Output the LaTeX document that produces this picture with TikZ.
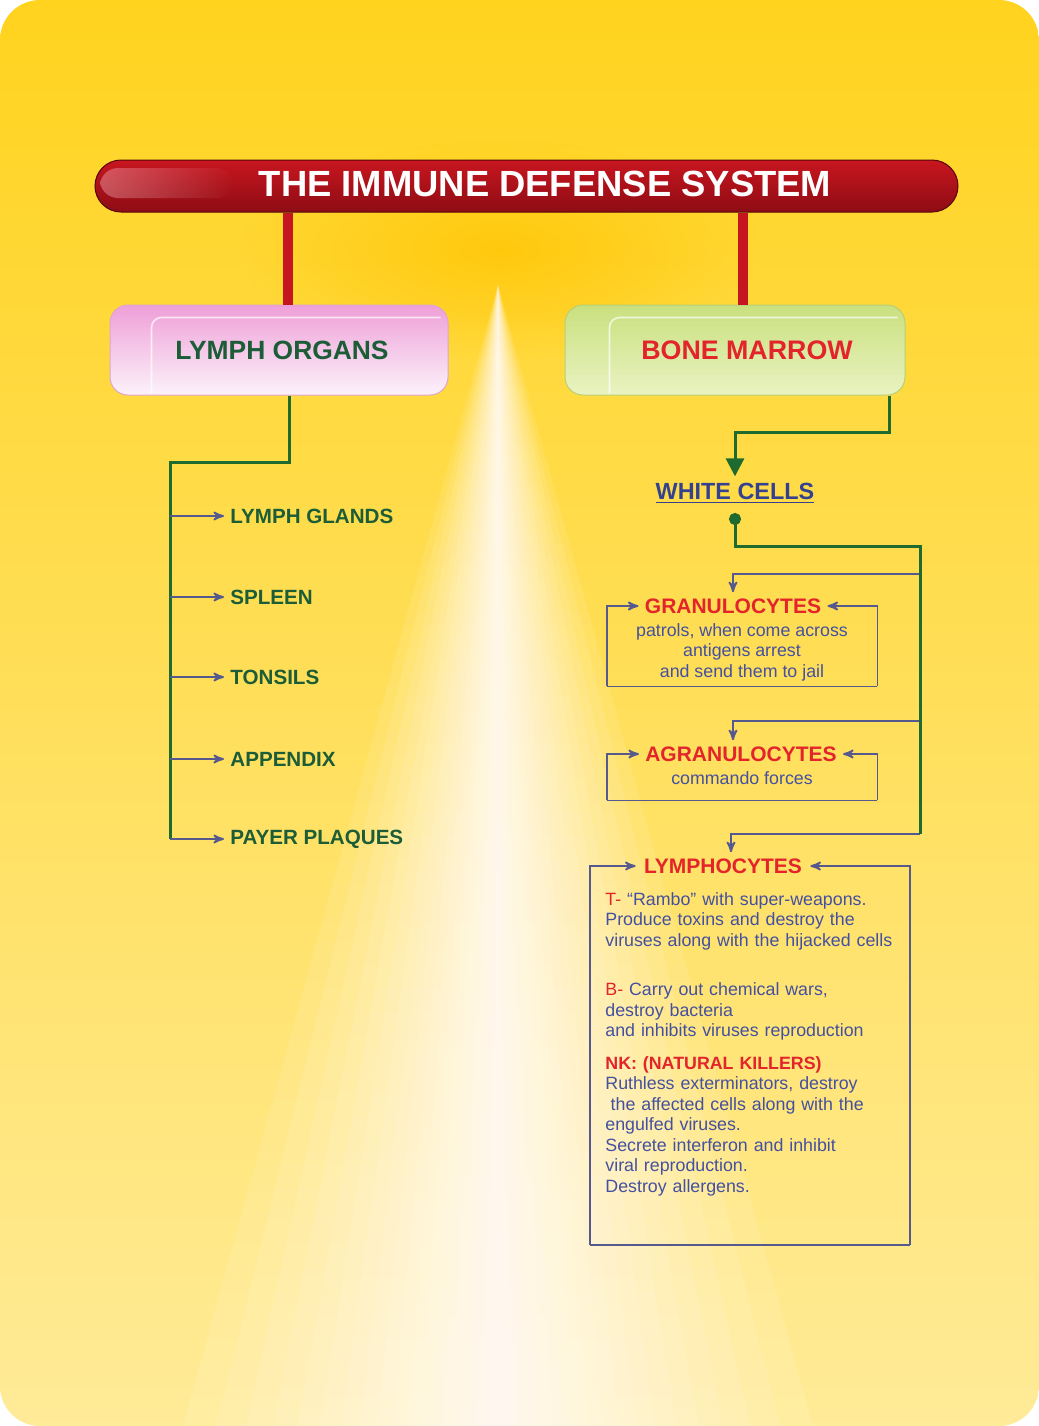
\documentclass[tikz,border=0pt]{standalone}
\usepackage{fontspec}
\setmainfont{Liberation Sans}
\usepackage{tikz}
\usetikzlibrary{arrows,arrows.meta,shapes,positioning,calc,fadings}
\definecolor{bgtop}{HTML}{FFD31E}
\definecolor{bgmid}{HTML}{FFD93C}
\definecolor{bgfoot}{HTML}{FFEB98}
\definecolor{glowgold}{HTML}{FFC400}
\definecolor{bartop}{HTML}{C8161F}
\definecolor{barred}{HTML}{EE2C34}
\definecolor{barfoot}{HTML}{8E0C14}
\definecolor{barshine}{HTML}{FBC0C8}
\definecolor{stemred}{HTML}{C41520}
\definecolor{pinktop}{HTML}{EE9FD8}
\definecolor{pinkfoot}{HTML}{FCF2FA}
\definecolor{pinkedge}{HTML}{DDA6CC}
\definecolor{greentop}{HTML}{C9E07E}
\definecolor{greenfoot}{HTML}{EAF3C2}
\definecolor{greenedge}{HTML}{B7CF76}
\definecolor{labelgreen}{HTML}{1C5C36}
\definecolor{alertred}{HTML}{E3242B}
\definecolor{textblue}{HTML}{4450A0}
\definecolor{whiteblue}{HTML}{34418F}
\definecolor{feedblue}{HTML}{56598E}
\definecolor{trunkgreen}{HTML}{1F6A2E}
\tikzfading[name=fadeleft, left color=transparent!35, right color=transparent!100]
\tikzfading[name=glowfade, inner color=transparent!25, outer color=transparent!100]
\tikzstyle{titlebar}=[rectangle, rounded corners=13pt, minimum width=431.5pt, minimum height=26pt, top color=bartop, middle color=barred, bottom color=barfoot, draw=barfoot!60!black, line width=0.5pt]
\tikzstyle{titletext}=[font=\fontsize{18.2}{22}\selectfont\bfseries, text=white]
\tikzstyle{pinkbox}=[rectangle, rounded corners=9pt, minimum width=169pt, minimum height=45pt, top color=pinktop, bottom color=pinkfoot, draw=pinkedge, line width=0.5pt, font=\fontsize{13.2}{15}\selectfont\bfseries, text=labelgreen]
\tikzstyle{greenbox}=[rectangle, rounded corners=9pt, minimum width=170pt, minimum height=45pt, top color=greentop, bottom color=greenfoot, draw=greenedge, line width=0.5pt, font=\fontsize{13.4}{15}\selectfont\bfseries, text=alertred]
\tikzstyle{facecut}=[draw=white, opacity=0.7, line width=0.8pt, rounded corners=5pt]
\tikzstyle{stem}=[draw=stemred, line width=5pt]
\tikzstyle{trunk}=[draw=trunkgreen, line width=1.5pt]
\tikzstyle{cellframe}=[draw=feedblue, line width=0.9pt]
\tikzstyle{feed}=[cellframe, ->, >=stealth']
\tikzstyle{organlabel}=[anchor=west, inner sep=3pt, font=\fontsize{10.3}{12}\selectfont\bfseries, text=labelgreen]
\tikzstyle{whitelabel}=[inner sep=3pt, font=\fontsize{11.7}{14}\selectfont\bfseries, text=whiteblue]
\tikzstyle{celltitle}=[inner sep=3pt, font=\fontsize{10.5}{12}\selectfont\bfseries, text=alertred]
\tikzstyle{cellbody}=[inner sep=0pt, align=center, font=\fontsize{8.9}{10.25}\selectfont, text=textblue]
\begin{document}
\begin{tikzpicture}[x=0.5pt,y=-0.5pt]
\useasboundingbox (0,0) rectangle (1039,1426);
% backdrop with the light ray
\fill[white] (0,0) rectangle (1039,1426);
\shade[rounded corners=20pt, top color=bgtop, middle color=bgmid, bottom color=bgfoot] (0,0) rectangle (1039,1426);
\fill[glowgold, path fading=glowfade] (500,250) ellipse [x radius=260, y radius=110];
\foreach \w in {5,9,14,20,27,35,44,54,65,77,90,105,121,138,157,178,200,225,252,282,315}
  \fill[white, opacity=0.1] (498,285) -- (498-\w,1426) -- (498+\w,1426) -- cycle;

% title bar
\node[titlebar] (bar) at (526.5,186) {};
\fill[barshine, opacity=0.6, path fading=fadeleft, rounded corners=9pt] (100,168) rectangle (235,198);
\node[titletext] (title) at (545,184) {THE IMMUNE DEFENSE SYSTEM};

% the two organ boxes
\node[pinkbox] (lymph) at (279,350) {\hspace*{3pt}LYMPH ORGANS};
\node[greenbox] (marrow) at (735,350) {\hspace*{12pt}BONE MARROW};
\draw[facecut] ([xshift=21pt,yshift=1pt]lymph.south west) -- ([xshift=21pt,yshift=-6.5pt]lymph.north west) -- ([xshift=-4pt,yshift=-6.5pt]lymph.north east);
\draw[facecut] ([xshift=22.5pt,yshift=1pt]marrow.south west) -- ([xshift=22.5pt,yshift=-6.5pt]marrow.north west) -- ([xshift=-4pt,yshift=-6.5pt]marrow.north east);
\path ([xshift=4.5pt]lymph.north) coordinate (lstem);
\path ([xshift=4pt]marrow.north) coordinate (mstem);
\draw[stem] (lstem) -- (lstem |- bar.south);
\draw[stem] (mstem) -- (mstem |- bar.south);

% lymph organs
\node[organlabel] (glands) at (224,516) {LYMPH GLANDS};
\node[organlabel] (spleen) at (224,597) {SPLEEN};
\node[organlabel] (tonsils) at (224,677) {TONSILS};
\node[organlabel] (appendix) at (224,759) {APPENDIX};
\node[organlabel] (payer) at (224,839) {PAYER PLAQUES};
\coordinate (lymphfork) at (170,462);
\path ([xshift=5pt]lymph.south) coordinate (lymphdrop);
\draw[trunk] (lymphdrop) |- (lymphfork) -- (lymphfork |- payer.west);
\foreach \organ in {glands,spleen,tonsils,appendix,payer}
  \draw[feed] (lymphfork |- \organ.west) -- (\organ.west);

% white cells
\node[whitelabel] (white) at (735,493) {\underline{WHITE CELLS}};
\coordinate (marrowbend) at (735,432);
\path ([xshift=-8pt]marrow.south east) coordinate (marrowdrop);
\draw[trunk, -{Triangle[length=9pt,width=9pt]}] (marrowdrop) |- (marrowbend) -- (white.north);

\node[celltitle] (gran) at (733,606) {GRANULOCYTES};
\node[cellbody, minimum width=135pt, minimum height=34pt] (granbody) at (742,652) {patrols, when come across\\antigens arrest\\and send them to jail};
\node[celltitle] (agran) at (741,754) {AGRANULOCYTES};
\node[cellbody, minimum width=135pt, minimum height=22pt] (agranbody) at (742,778) {commando forces};
\node[celltitle, inner xsep=4pt] (lympho) at (723,866) {LYMPHOCYTES};
\node[cellbody, align=left, anchor=north west, text width=144.5pt, inner xsep=7.5pt, inner ysep=0pt] (lymphobody) at (590,892) {%
{\color{alertred}T-} “Rambo” with super-weapons.\\
Produce toxins and destroy the\\
\mbox{viruses along with the hijacked cells}\\[14.5pt]
{\color{alertred}B-} Carry out chemical wars,\\
destroy bacteria\\
and inhibits viruses reproduction\\[6pt]
{\color{alertred}\bfseries NK: (NATURAL KILLERS)}\\
Ruthless exterminators, destroy\\
\hspace*{0.3em}the affected cells along with the\\
engulfed viruses.\\
Secrete interferon and inhibit\\
viral reproduction.\\
Destroy allergens.};
\coordinate (lymphofoot) at (749.5,1245);

% feeds off the spine
\coordinate (whitefoot) at (735,513);
\coordinate (spinetop) at (920,546);
\coordinate (spinebot) at (920,834);
\coordinate (granfeed) at (920,574);
\coordinate (agranfeed) at (920,721);
\path ([xshift=-4pt]agran.north) coordinate (agrantop);
\path ([xshift=4pt]lympho.north) coordinate (lymphotop);
\draw[feed] (granfeed) -| (gran.north);
\draw[feed] (agranfeed) -| (agrantop);
\draw[feed] (spinebot) -| (lymphotop);
\draw[trunk, {Circle[length=6pt]}-] (whitefoot) |- (spinetop) -- (spinebot);

% cell frames
\draw[feed] (granbody.south west) |- (gran.west);
\draw[feed] (granbody.south east) |- (gran.east);
\draw[cellframe] (granbody.south west) -- (granbody.south east);
\draw[feed] (agranbody.south west) |- (agran.west);
\draw[feed] (agranbody.south east) |- (agran.east);
\draw[cellframe] (agranbody.south west) -- (agranbody.south east);
\draw[feed] (lymphofoot -| lymphobody.west) |- (lympho.west);
\draw[feed] (lymphofoot -| lymphobody.east) |- (lympho.east);
\draw[cellframe] (lymphofoot -| lymphobody.west) -- (lymphofoot -| lymphobody.east);
\end{tikzpicture}
\end{document}
